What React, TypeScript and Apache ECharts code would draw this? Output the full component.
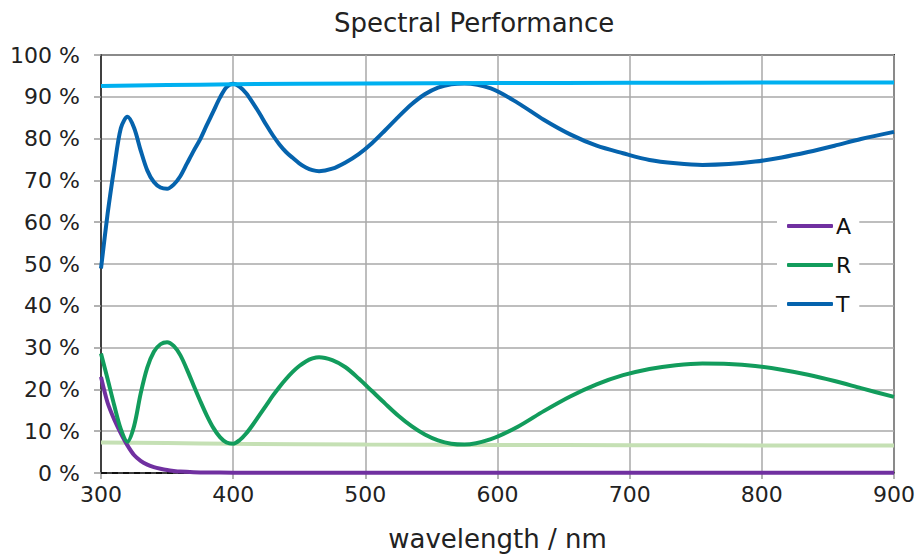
import React, { useEffect, useRef } from "react";
import * as echarts from "echarts";

const xTicks = [300, 400, 500, 600, 700, 800, 900];

const wl = [300, 305, 310, 315, 320, 325, 330, 335, 340, 345, 350, 355, 360, 365, 370, 375, 380, 385, 390, 395, 400, 405, 410, 415, 420, 425, 430, 435, 440, 445, 450, 455, 460, 465, 475, 485, 495, 505, 515, 525, 535, 545, 555, 565, 575, 595, 615, 635, 655, 675, 695, 715, 735, 755, 775, 795, 815, 835, 855, 875, 900];
const valT = [48.9, 62, 73, 82.5, 85.2, 82.6, 77.2, 72.4, 69.6, 68.3, 68.0, 69.0, 71.0, 74.0, 77.0, 79.8, 83.2, 86.5, 89.8, 92.3, 93.1, 92.4, 90.8, 88.5, 86.0, 83.3, 80.8, 78.6, 76.8, 75.4, 74.1, 73.1, 72.45, 72.2, 72.8, 74.3, 76.3, 78.9, 82.0, 85.2, 88.2, 90.6, 92.2, 93.0, 93.2, 92.0, 88.6, 84.5, 81.0, 78.3, 76.5, 74.9, 74.1, 73.7, 73.9, 74.5, 75.5, 76.8, 78.3, 79.9, 81.6];
const valR = [28.6, 22.5, 16.2, 10.5, 7.5, 11.2, 19.0, 25.2, 29.0, 30.8, 31.3, 30.4, 28.2, 24.8, 21.0, 17.3, 13.8, 10.8, 8.6, 7.3, 7.0, 7.9, 9.5, 11.6, 13.9, 16.2, 18.5, 20.6, 22.5, 24.2, 25.6, 26.7, 27.4, 27.7, 27.0, 25.3, 22.6, 19.6, 16.6, 13.7, 11.2, 9.2, 7.8, 7.0, 6.8, 8.1, 11.0, 14.8, 18.3, 21.2, 23.4, 24.9, 25.8, 26.2, 26.1, 25.6, 24.7, 23.5, 22.0, 20.3, 18.2];

const wlA = [300, 305, 310, 315, 320, 325, 330, 335, 340, 345, 350, 355, 360, 370, 380, 400, 500, 600, 700, 800, 900];
const valA = [23, 16.8, 12.8, 9.5, 6.6, 4.3, 2.9, 2.0, 1.4, 1.0, 0.7, 0.5, 0.35, 0.2, 0.12, 0.08, 0.05, 0.05, 0.05, 0.05, 0.05];

const wlRef = [300, 350, 400, 500, 600, 700, 800, 900];
const valTsub = [92.6, 92.8, 93.0, 93.2, 93.3, 93.35, 93.4, 93.4];
const valRsub = [7.3, 7.15, 7.0, 6.8, 6.7, 6.65, 6.6, 6.6];

const wlZero = [300, 900];
const valZero = [0, 0];

const FONT = "DejaVu Sans";

function pairs(xs: number[], ys: number[]) {
  return xs.map((x, i) => [x, ys[i]]);
}

export default function App() {
  const ref = useRef<HTMLDivElement>(null);
  useEffect(() => {
    document.body.style.margin = "0";
    document.body.style.overflow = "hidden";
    const chart = echarts.init(ref.current!, null, { renderer: "svg" });
    chart.setOption({
      animation: false,
      title: {
        text: "Spectral Performance",
        left: 329,
        top: 5,
        textStyle: { fontFamily: FONT, fontSize: 26, fontWeight: "normal", color: "#222" },
      },
      legend: {
        data: ["A", "R", "T"],
        orient: "vertical",
        left: 777,
        top: 207,
        backgroundColor: "#fff",
        padding: [8, 8, 8, 10],
        itemWidth: 46,
        itemHeight: 4,
        itemGap: 17,
        icon: "roundRect",
        textStyle: { fontFamily: FONT, fontSize: 22, color: "#111", lineHeight: 20, padding: [0, 0, 0, -2] },
      },
      grid: {
        left: 101,
        right: 20,
        top: 55,
        bottom: 81,
        show: true,
        borderColor: "#333",
        borderWidth: 2,
        containLabel: false,
      },
      xAxis: {
        type: "value",
        min: 300,
        max: 900,
        interval: 100,
        name: "wavelength / nm",
        nameLocation: "middle",
        nameGap: 53,
        nameTextStyle: { fontFamily: FONT, fontSize: 26, color: "#222" },
        axisLine: { show: true, lineStyle: { color: "#404040", width: 2 } },
        axisTick: { show: true, length: 6, lineStyle: { color: "#999", width: 1.5 } },
        axisLabel: {
          fontFamily: FONT,
          fontSize: 22,
          color: "#222",
          margin: 10,
          formatter: (v: number) => (xTicks.includes(v) ? String(v) : ""),
        },
        splitLine: { show: true, lineStyle: { color: "#a8a8a8", width: 1.5 } },
      },
      yAxis: {
        type: "value",
        min: 0,
        max: 100,
        interval: 10,
        axisLine: { show: true, lineStyle: { color: "#404040", width: 2 } },
        axisTick: { show: true, length: 7, lineStyle: { color: "#999", width: 1.5 } },
        axisLabel: { fontFamily: FONT, fontSize: 22, color: "#222", margin: 21, formatter: "{value} %" },
        splitLine: { show: true, lineStyle: { color: "#a8a8a8", width: 1.5 } },
      },
      series: [
        {
          name: "zero",
          type: "line",
          data: pairs(wlZero, valZero),
          symbol: "none",
          lineStyle: { color: "#111", width: 2, type: [6, 5] },
          z: 1,
        },
        {
          name: "Rsub",
          type: "line",
          data: pairs(wlRef, valRsub),
          smooth: true,
          symbol: "none",
          lineStyle: { color: "#c5e0b4", width: 4 },
          z: 2,
        },
        {
          name: "A",
          type: "line",
          data: pairs(wlA, valA),
          smooth: 0.3,
          symbol: "none",
          color: "#7030a0",
          lineStyle: { color: "#7030a0", width: 4 },
          z: 3,
        },
        {
          name: "R",
          type: "line",
          data: pairs(wl, valR),
          smooth: 0.3,
          symbol: "none",
          color: "#129c5c",
          lineStyle: { color: "#129c5c", width: 4 },
          z: 4,
        },
        {
          name: "T",
          type: "line",
          data: pairs(wl, valT),
          smooth: 0.3,
          symbol: "none",
          color: "#0563ad",
          lineStyle: { color: "#0563ad", width: 4 },
          z: 5,
        },
        {
          name: "Tsub",
          type: "line",
          data: pairs(wlRef, valTsub),
          smooth: true,
          symbol: "none",
          lineStyle: { color: "#00b0f0", width: 4 },
          z: 6,
        },
      ],
    });
    return () => chart.dispose();
  }, []);
  return <div ref={ref} style={{ width: 918, height: 557 }} />;
}
